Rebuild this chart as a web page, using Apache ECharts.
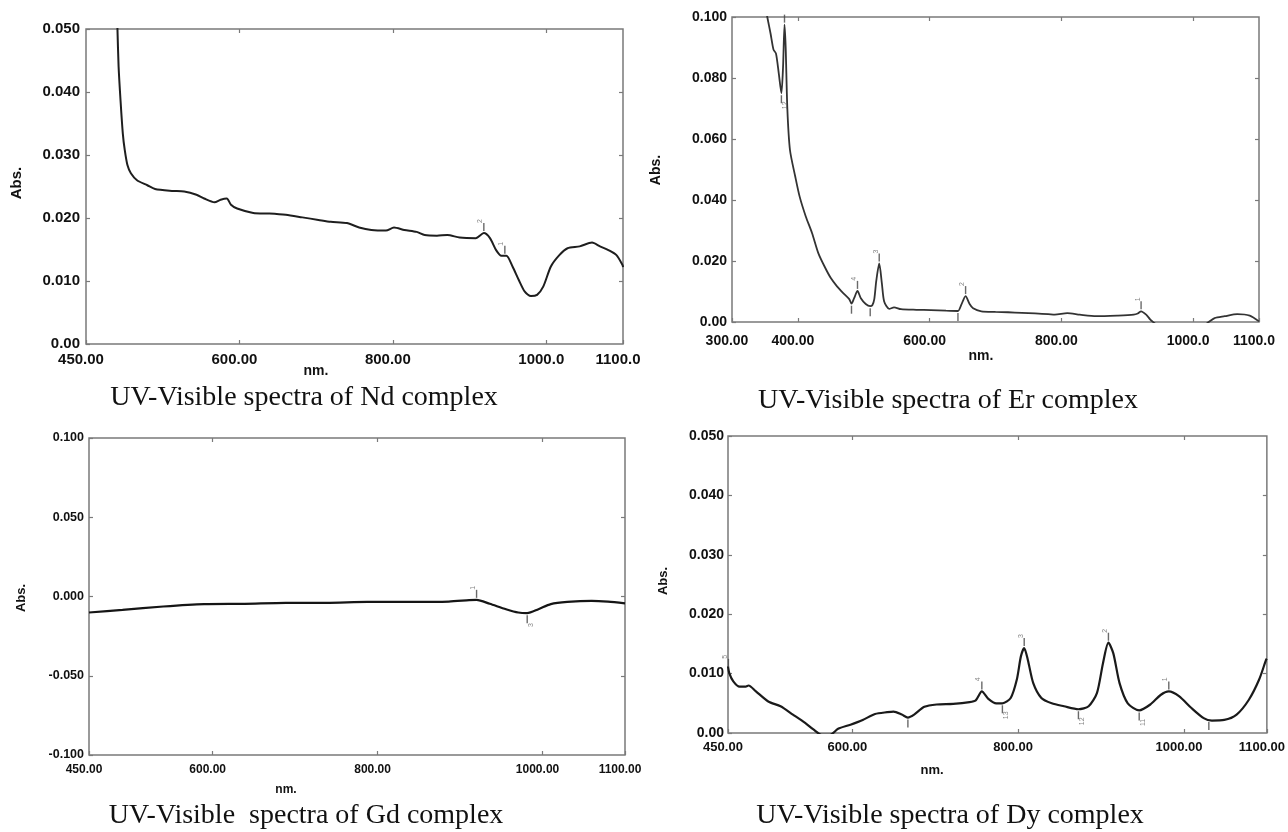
<!DOCTYPE html>
<html><head><meta charset="utf-8">
<script src="https://cdn.jsdelivr.net/npm/echarts@6/dist/echarts.min.js"></script>
<style>html,body{margin:0;padding:0;background:#fff}#c{width:1288px;height:832px}</style>
</head><body><div id="c"></div>
<script>
// ---------- Nd complex ----------
const ndWavelength = [440, 441, 442.5, 445, 448, 450.5, 454, 458.5, 466.5, 480, 490, 512, 528, 544, 554, 567.5, 575.5, 583.5, 589, 597, 618, 639, 660.5, 682, 703, 719, 740, 756, 772, 791, 801.5, 815, 831, 841.5, 857.5, 871, 887, 908, 918.6, 926.6, 934.6, 941.5, 948, 956, 964, 972, 980, 988, 996, 1006, 1017, 1027.7, 1043.6, 1059.6, 1070, 1081, 1091.5, 1099.5, 1100];
const ndAbs = [0.054, 0.050, 0.0440, 0.0387, 0.0334, 0.0308, 0.0284, 0.0271, 0.0260, 0.0252, 0.0246, 0.0243, 0.0242, 0.0237, 0.0231, 0.0225, 0.0229, 0.0231, 0.0221, 0.0215, 0.0208, 0.0207, 0.0205, 0.0201, 0.0197, 0.0194, 0.0192, 0.0185, 0.0181, 0.0180, 0.0185, 0.0181, 0.0178, 0.0173, 0.0172, 0.0173, 0.0169, 0.0168, 0.0176, 0.0168, 0.0149, 0.0140, 0.0140, 0.0123, 0.0102, 0.0083, 0.0076, 0.0078, 0.0091, 0.0123, 0.0141, 0.0152, 0.0155, 0.0161, 0.0155, 0.0149, 0.0141, 0.0125, 0.0122];
const ndPeaksUp = [[918.6, 0.0176, '2'], [946, 0.0140, '1']];
const ndPeaksDown = [];
const ndXTickValues = [400, 600, 800, 1000, 1100];
const ndXTickLabels = ['450.00', '600.00', '800.00', '1000.0', '1100.0'];
const ndYTickValues = [0, 0.01, 0.02, 0.03, 0.04, 0.05];
const ndYTickLabels = ['0.00', '0.010', '0.020', '0.030', '0.040', '0.050'];

// ---------- Er complex ----------
const erWavelength = [350, 354, 358.6, 363, 366.8, 371, 375, 377.5, 379.7, 381.5, 384, 388, 396, 402.7, 412, 421.6, 431, 440.5, 450, 459.4, 468.8, 478, 481.4, 485.4, 490.5, 495.6, 503, 509.8, 513, 516, 519, 523.5, 527.5, 531, 538.7, 546, 556.5, 580, 602, 625, 643, 648, 654.6, 660.7, 666, 678.5, 700, 719, 740, 760, 780, 790, 809, 828, 853, 884.6, 909.8, 916, 921, 928.7, 935, 941, 950, 1000, 1018, 1023, 1032.6, 1048, 1067, 1086, 1100];
const erAbs = [0.104, 0.0995, 0.0945, 0.0893, 0.0880, 0.0815, 0.0750, 0.0836, 0.0975, 0.0900, 0.0700, 0.0564, 0.0477, 0.0411, 0.0346, 0.0291, 0.0226, 0.0182, 0.0144, 0.0117, 0.0095, 0.0075, 0.0060, 0.0078, 0.0102, 0.0078, 0.0059, 0.0052, 0.0055, 0.0075, 0.0135, 0.0192, 0.0127, 0.0067, 0.0043, 0.0048, 0.0042, 0.0040, 0.0039, 0.0037, 0.0036, 0.0056, 0.0085, 0.0059, 0.0045, 0.0035, 0.0033, 0.0032, 0.0030, 0.0028, 0.0026, 0.0024, 0.0029, 0.0024, 0.0019, 0.0021, 0.0024, 0.0028, 0.0035, 0.0024, 0.0008, -0.0003, -0.002, -0.002, -0.0008, -0.0001, 0.0013, 0.0019, 0.0026, 0.0021, 0.0002];
const erPeaksUp = [[379.7, 0.0975, ''], [490.5, 0.0102, '4'], [523.5, 0.0192, '3'], [654.6, 0.0085, '2'], [921, 0.0035, '1']];
const erPeaksDown = [[375, 0.0750, '12'], [481.4, 0.0060, ''], [509.8, 0.0052, ''], [643, 0.0036, '']];
const erXTickValues = [300, 400, 600, 800, 1000, 1100];
const erXTickLabels = ['300.00', '400.00', '600.00', '800.00', '1000.0', '1100.0'];
const erYTickValues = [0, 0.02, 0.04, 0.06, 0.08, 0.1];
const erYTickLabels = ['0.00', '0.020', '0.040', '0.060', '0.080', '0.100'];

// ---------- Gd complex ----------
const gdWavelength = [450, 490.6, 540, 589.5, 639, 688.5, 738, 787.5, 837, 886.4, 911, 920, 936, 955.7, 970.5, 981.4, 995, 1010, 1030, 1059.6, 1079.4, 1100];
const gdAbs = [-0.0101, -0.0084, -0.0063, -0.0048, -0.0046, -0.0040, -0.0040, -0.0034, -0.0034, -0.0032, -0.0023, -0.0021, -0.0046, -0.0080, -0.0101, -0.0105, -0.0080, -0.0048, -0.0034, -0.0027, -0.0032, -0.0043];
const gdPeaksUp = [[920, -0.0021, '1']];
const gdPeaksDown = [[981.4, -0.0105, '3']];
const gdXTickValues = [450, 600, 800, 1000, 1100];
const gdXTickLabels = ['450.00', '600.00', '800.00', '1000.00', '1100.00'];
const gdYTickValues = [-0.1, -0.05, 0, 0.05, 0.1];
const gdYTickLabels = ['-0.100', '-0.050', '0.000', '0.050', '0.100'];

// ---------- Dy complex ----------
const dyWavelength = [450, 451.5, 456.4, 464, 471.3, 474.8, 483.7, 498.6, 513.4, 528.3, 543, 553, 563, 573, 582.8, 597.7, 612.5, 627.4, 642, 649.7, 659.6, 667, 674.5, 686.9, 701.7, 721.6, 741.4, 748.8, 756.2, 763.7, 773.6, 781, 791, 798.4, 803.3, 807.3, 811.7, 818.2, 828, 840.5, 855.3, 872.7, 885, 895, 902.4, 908.9, 914.8, 922.3, 932.2, 946, 959.4, 971.8, 981.7, 994, 1009, 1023.8, 1033.7, 1048.6, 1063.5, 1078.3, 1090.7, 1099, 1100];
const dyAbs = [0.0112, 0.0101, 0.0087, 0.0078, 0.0078, 0.0080, 0.0070, 0.0053, 0.0045, 0.0031, 0.0017, 0.0006, -0.0003, -0.0003, 0.0007, 0.0014, 0.0022, 0.0032, 0.0035, 0.0036, 0.0031, 0.0026, 0.0031, 0.0044, 0.0048, 0.0049, 0.0052, 0.0055, 0.0070, 0.0058, 0.0050, 0.0050, 0.0059, 0.0090, 0.0129, 0.0143, 0.0123, 0.0084, 0.0059, 0.0050, 0.0045, 0.0040, 0.0045, 0.0067, 0.0118, 0.0152, 0.0134, 0.0084, 0.0050, 0.0038, 0.0048, 0.0064, 0.0070, 0.0062, 0.0042, 0.0025, 0.0021, 0.0022, 0.0031, 0.0056, 0.0090, 0.0123, 0.0125];
const dyPeaksUp = [[450.5, 0.0108, '5'], [756.2, 0.0070, '4'], [807.3, 0.0143, '3'], [908.9, 0.0152, '2'], [981.7, 0.0070, '1']];
const dyPeaksDown = [[667, 0.0026, ''], [781, 0.0050, '13'], [872.7, 0.0040, '12'], [946, 0.0038, '11'], [1030, 0.0022, '']];
const dyXTickValues = [450, 600, 800, 1000, 1100];
const dyXTickLabels = ['450.00', '600.00', '800.00', '1000.00', '1100.00'];
const dyYTickValues = [0, 0.01, 0.02, 0.03, 0.04, 0.05];
const dyYTickLabels = ['0.00', '0.010', '0.020', '0.030', '0.040', '0.050'];

// ---------- layout / style ----------
const SANS = '"Liberation Sans", Arial, sans-serif';
const SERIF = '"Liberation Serif", "Times New Roman", serif';
const panels = [
  { x: ndWavelength, y: ndAbs, up: ndPeaksUp, down: ndPeaksDown, xMin: 400, xMax: 1100, xv: ndXTickValues, xl: ndXTickLabels,
    yMin: 0, yMax: 0.05, yv: ndYTickValues, yl: ndYTickLabels,
    grid: { left: 86, top: 29, width: 537, height: 315 }, xFont: 15, yFont: 15, xMargin: 8, yMargin: 6, lw: 2, color: '#1e1e1e' },
  { x: erWavelength, y: erAbs, up: erPeaksUp, down: erPeaksDown, xMin: 300, xMax: 1100, xv: erXTickValues, xl: erXTickLabels,
    yMin: 0, yMax: 0.1, yv: erYTickValues, yl: erYTickLabels,
    grid: { left: 732, top: 17, width: 527, height: 305 }, xFont: 14, yFont: 14, xMargin: 12, yMargin: 5, lw: 1.8, color: '#333' },
  { x: gdWavelength, y: gdAbs, up: gdPeaksUp, down: gdPeaksDown, xMin: 450, xMax: 1100, xv: gdXTickValues, xl: gdXTickLabels,
    yMin: -0.1, yMax: 0.1, yv: gdYTickValues, yl: gdYTickLabels,
    grid: { left: 89, top: 438, width: 536, height: 317 }, xFont: 12, yFont: 12.5, xMargin: 9, yMargin: 5, lw: 2.2, color: '#151515' },
  { x: dyWavelength, y: dyAbs, up: dyPeaksUp, down: dyPeaksDown, xMin: 450, xMax: 1100, xv: dyXTickValues, xl: dyXTickLabels,
    yMin: 0, yMax: 0.05, yv: dyYTickValues, yl: dyYTickLabels,
    grid: { left: 728, top: 436, width: 541, height: 297 }, xFont: 13, yFont: 14, xMargin: 8, yMargin: 4, lw: 2.2, color: '#1a1a1a' }
];

const grids = [], xAxes = [], yAxes = [], series = [];
panels.forEach((p, i) => {
  grids.push(Object.assign({ show: true, borderColor: '#7a7a7a', borderWidth: 1.5, backgroundColor: '#fff' }, p.grid));
  const tickStyle = { show: true, inside: true, length: 4, lineStyle: { color: '#7a7a7a', width: 1.2 } };
  const noLine = { show: false, onZero: false };
  const fmtX = v => { const k = p.xv.indexOf(v); return k >= 0 ? p.xl[k] : ''; };
  const fmtY = v => { let k = -1; p.yv.forEach((t, j) => { if (Math.abs(t - v) < 1e-9) k = j; }); return k >= 0 ? p.yl[k] : ''; };
  xAxes.push({ type: 'value', gridIndex: i, position: 'bottom', min: p.xMin, max: p.xMax,
    axisLine: noLine, splitLine: { show: false },
    axisTick: Object.assign({ customValues: p.xv }, tickStyle),
    axisLabel: { customValues: p.xv, formatter: fmtX, margin: p.xMargin, color: '#111', fontFamily: SANS, fontWeight: 'bold', fontSize: p.xFont, padding: [0, 10, 0, 0] } });
  xAxes.push({ type: 'value', gridIndex: i, position: 'top', min: p.xMin, max: p.xMax,
    axisLine: noLine, splitLine: { show: false }, axisLabel: { show: false },
    axisTick: Object.assign({ customValues: p.xv.slice(1, -1) }, tickStyle) });
  yAxes.push({ type: 'value', gridIndex: i, position: 'left', min: p.yMin, max: p.yMax,
    axisLine: noLine, splitLine: { show: false },
    axisTick: Object.assign({ customValues: p.yv }, tickStyle),
    axisLabel: { customValues: p.yv, formatter: fmtY, margin: p.yMargin, color: '#111', fontFamily: SANS, fontWeight: 'bold', fontSize: p.yFont } });
  yAxes.push({ type: 'value', gridIndex: i, position: 'right', min: p.yMin, max: p.yMax,
    axisLine: noLine, splitLine: { show: false }, axisLabel: { show: false },
    axisTick: Object.assign({ customValues: p.yv.slice(1, -1) }, tickStyle) });
  series.push({ type: 'line', xAxisIndex: 2 * i, yAxisIndex: 2 * i, data: p.x.map((w, k) => [w, p.y[k]]),
    showSymbol: false, smooth: 0.25, clip: true, lineStyle: { color: p.color, width: p.lw }, silent: true, z: 3 });
  const peakLabel = (pos) => ({ show: true, position: pos, distance: 2, rotate: 90, fontSize: 7, color: '#666', fontFamily: SANS,
    formatter: q => q.value[2] });
  series.push({ type: 'scatter', xAxisIndex: 2 * i, yAxisIndex: 2 * i, data: p.up, symbol: 'rect', symbolSize: [1.4, 8],
    symbolOffset: [0, -6], itemStyle: { color: '#444' }, label: peakLabel('top'), silent: true, z: 4 });
  series.push({ type: 'scatter', xAxisIndex: 2 * i, yAxisIndex: 2 * i, data: p.down, symbol: 'rect', symbolSize: [1.4, 8],
    symbolOffset: [0, 6], itemStyle: { color: '#444' }, label: peakLabel('bottom'), silent: true, z: 4 });
});

const txt = (text, x, y, size, opts) => Object.assign({ type: 'text', x: x, y: y, silent: true,
  style: { text: text, fill: '#111', font: size, textAlign: 'center', textVerticalAlign: 'middle' } }, opts || {});
const absOpt = { rotation: Math.PI / 2 };
const graphic = [
  txt('Abs.', 17, 183, 'bold 15px ' + SANS, absOpt),
  txt('nm.', 316, 371, 'bold 14px ' + SANS),
  txt('UV-Visible spectra of Nd complex', 304, 398, '28px ' + SERIF),
  txt('Abs.', 656, 170, 'bold 14px ' + SANS, absOpt),
  txt('nm.', 981, 356, 'bold 14px ' + SANS),
  txt('UV-Visible spectra of Er complex', 948, 401, '28px ' + SERIF),
  txt('Abs.', 21, 598, 'bold 13px ' + SANS, absOpt),
  txt('nm.', 286, 790, 'bold 12px ' + SANS),
  txt('UV-Visible  spectra of Gd complex', 306, 816, '28px ' + SERIF),
  txt('Abs.', 663, 581, 'bold 13px ' + SANS, absOpt),
  txt('nm.', 932, 770, 'bold 13px ' + SANS),
  txt('UV-Visible spectra of Dy complex', 950, 816, '28px ' + SERIF)
];

const chart = echarts.init(document.getElementById('c'), null, { renderer: 'canvas' });
chart.setOption({ animation: false, backgroundColor: '#fff', grid: grids, xAxis: xAxes, yAxis: yAxes, series: series, graphic: graphic });
</script>
</body></html>
